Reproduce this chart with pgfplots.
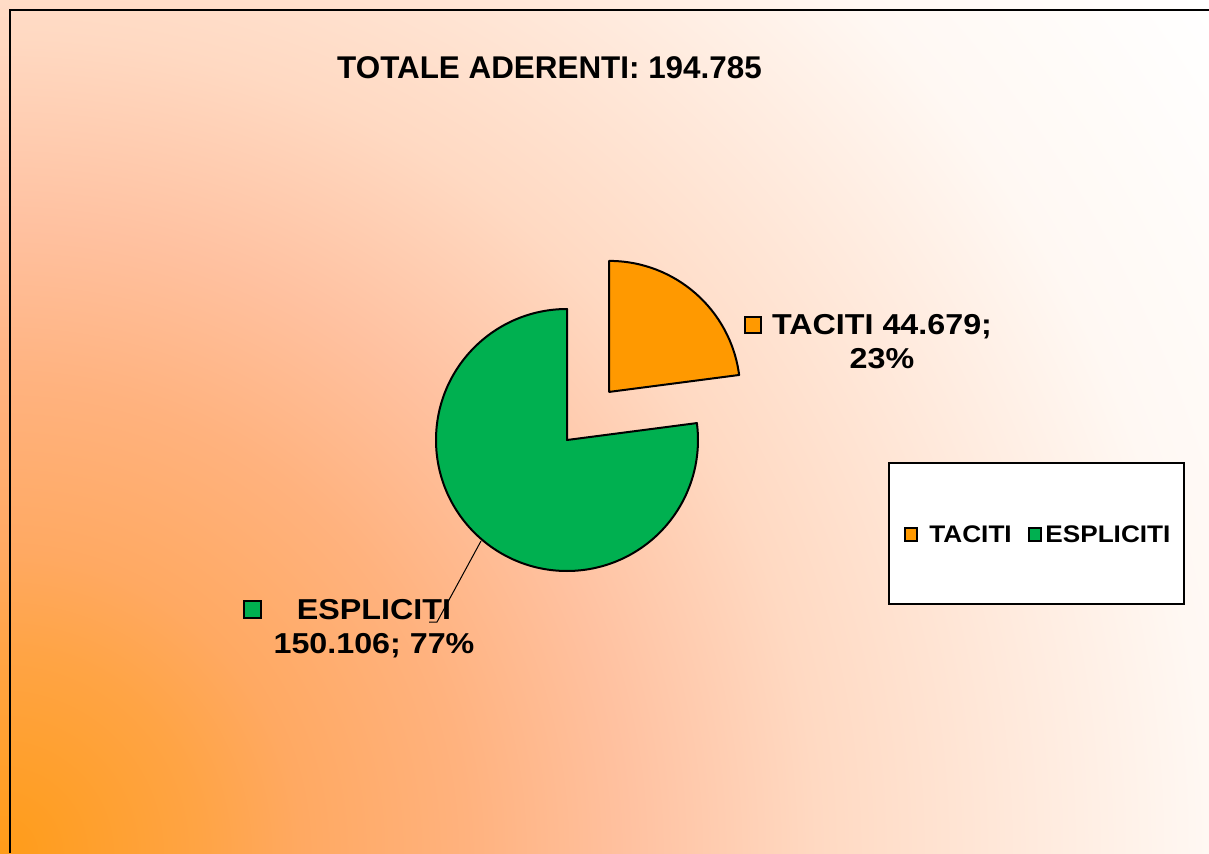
\documentclass[border=0pt]{standalone}
\usepackage{fontspec}
\setmainfont{Liberation Sans}
\newfontfamily\lblfont[FakeStretch=1.12]{Liberation Sans}
\newfontfamily\legfont[FakeStretch=1.09]{Liberation Sans}
\usepackage{pgfplots}
\pgfplotsset{compat=1.18}
\definecolor{cTac}{HTML}{FF9900}
\definecolor{cEsp}{HTML}{00B050}
\definecolor{g0}{HTML}{FF9C18}
\definecolor{g1}{HTML}{FFA445}
\definecolor{g2}{HTML}{FFA962}
\definecolor{g3}{HTML}{FFB27E}
\definecolor{g4}{HTML}{FFC1A0}
\definecolor{g5}{HTML}{FFD9C2}
\definecolor{g6}{HTML}{FFF8F3}
\pgfdeclareradialshading{bgr}{\pgfpoint{0bp}{0bp}}{color(0bp)=(g0); color(3.4bp)=(g1); color(5.1bp)=(g2); color(7.9bp)=(g3); color(10.6bp)=(g4); color(13.8bp)=(g5); color(20.4bp)=(g6); color(25bp)=(white); color(50bp)=(white)}
% values in thousands
\def\vTac{44.679}
\def\vEsp{150.106}
\begin{document}
\begin{tikzpicture}
\pgfmathsetmacro{\aT}{\vTac/(\vTac+\vEsp)*360}
\pgfmathsetmacro{\startT}{90-\aT}
\pgfmathsetmacro{\midT}{90-\aT/2}
\pgfmathsetmacro{\endE}{450-\aT}
\begin{axis}[width=604.5pt,height=426.5pt,scale only axis,
  xmin=0,xmax=1209,ymin=0,ymax=853,hide axis,clip=false]
  \begin{scope}
    \clip (axis cs:0,0) rectangle (axis cs:1209,853);
    \shade[shading=bgr] (axis cs:0,0) circle[radius=1480];
  \end{scope}
  % frame
  \draw[black,line width=1pt] (axis cs:10,0) -- (axis cs:10,843) -- (axis cs:1209,843);
  % title
  \node[font=\fontsize{15.7}{18}\selectfont\bfseries,inner sep=0pt] at (axis cs:549.5,785) {TOTALE ADERENTI: 194.785};
  % pie
  \filldraw[fill=cEsp,draw=black,line width=1pt,line join=round]
    (axis cs:567,413) -- ++(90:131) arc[start angle=90,end angle=\endE,radius=131] -- cycle;
  \filldraw[fill=cTac,draw=black,line width=1pt,line join=round]
    (axis cs:567,413) ++(\midT:64) -- ++(\startT:131) arc[start angle=\startT,end angle=90,radius=131] -- cycle;
  % leader line
  \draw[black,line width=0.5pt] (axis cs:481,312) -- (axis cs:437,231) -- (axis cs:429,231);
  % data labels
  \draw[fill=cTac,draw=black,line width=0.8pt] (axis cs:745,520) rectangle (axis cs:761,536);
  \node[font=\lblfont\fontsize{14.4}{17}\selectfont\bfseries,inner sep=0pt,anchor=base] at (axis cs:882,518) {TACITI 44.679;};
  \node[font=\lblfont\fontsize{14.4}{17}\selectfont\bfseries,inner sep=0pt,anchor=base] at (axis cs:882,484) {23\%};
  \draw[fill=cEsp,draw=black,line width=0.8pt] (axis cs:244,235) rectangle (axis cs:261,252);
  \node[font=\lblfont\fontsize{14.4}{17}\selectfont\bfseries,inner sep=0pt,anchor=base] at (axis cs:374,234) {ESPLICITI};
  \node[font=\lblfont\fontsize{14.4}{17}\selectfont\bfseries,inner sep=0pt,anchor=base] at (axis cs:374,200) {150.106; 77\%};
  % legend
  \draw[fill=white,draw=black,line width=0.8pt] (axis cs:889,249) rectangle (axis cs:1184,390);
  \draw[fill=cTac,draw=black,line width=0.8pt] (axis cs:905,312) rectangle (axis cs:917,325);
  \node[font=\legfont\fontsize{12}{14}\selectfont\bfseries,inner sep=0pt,anchor=west] at (axis cs:929,319) {TACITI};
  \draw[fill=cEsp,draw=black,line width=0.8pt] (axis cs:1029,312) rectangle (axis cs:1041,325);
  \node[font=\legfont\fontsize{12}{14}\selectfont\bfseries,inner sep=0pt,anchor=west] at (axis cs:1045,319) {ESPLICITI};
\end{axis}
\pgfresetboundingbox
\path (current axis.south west) rectangle (current axis.north east);
\end{tikzpicture}
\end{document}
